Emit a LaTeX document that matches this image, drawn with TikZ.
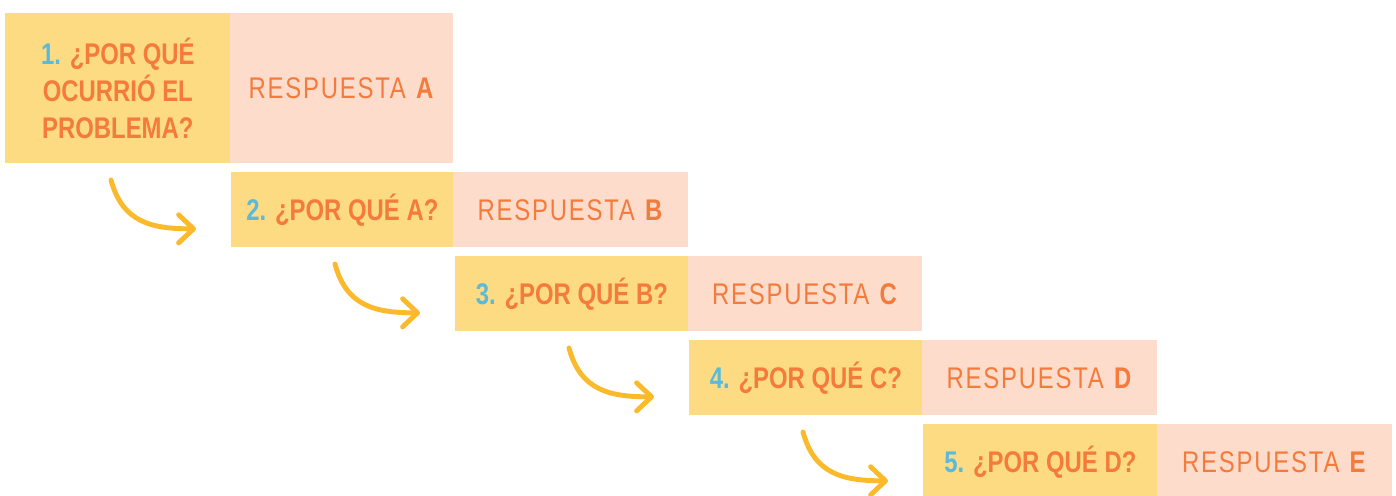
\documentclass[tikz,border=0pt]{standalone}
\usepackage{fontspec}
\setmainfont{Liberation Sans}[FakeStretch=0.8]
\newfontfamily\respfont{Liberation Sans}[FakeStretch=0.8,LetterSpace=6]
\usetikzlibrary{arrows.meta,calc}
\definecolor{amarillo}{HTML}{FCDB83}
\definecolor{rosa}{HTML}{FDDCCB}
\definecolor{naranja}{HTML}{F47B3B}
\definecolor{azul}{HTML}{5BB9DA}
\definecolor{flechacol}{HTML}{FBBA2B}
\tikzset{
  caja/.style={anchor=north west, inner sep=0pt, text=naranja,
    font=\fontsize{17}{21}\selectfont, align=center},
  pregunta/.style={caja, fill=amarillo, font=\fontsize{17}{21}\selectfont\bfseries},
  respuesta/.style={caja, fill=rosa, font=\fontsize{17}{21}\selectfont\respfont},
  flecha/.style={draw=flechacol, line width=2.8pt, line cap=round,
    -{Straight Barb[length=8.5pt,width=16pt,round]}}
}
\newcommand{\num}[1]{\textcolor{azul}{#1}}
\begin{document}
\begin{tikzpicture}[x=0.02cm, y=-0.02cm]
\useasboundingbox (0,0) rectangle (1396,496);

% fila 1
\node[pregunta, minimum width=4.5cm, minimum height=3cm] (q1) at (5,13)
  {\num{1.} ¿POR QUÉ\\OCURRIÓ EL\\PROBLEMA?};
\node[respuesta, minimum width=4.46cm, minimum height=3cm] (r1) at (230,13)
  {RESPUESTA \textbf{A}};

% fila 2
\node[pregunta, minimum width=4.44cm, minimum height=1.5cm] (q2) at (231,172)
  {\num{2.} ¿POR QUÉ A?};
\node[respuesta, minimum width=4.7cm, minimum height=1.5cm] (r2) at (453,172)
  {RESPUESTA \textbf{B}};

% fila 3
\node[pregunta, minimum width=4.66cm, minimum height=1.5cm] (q3) at (455,256)
  {\num{3.} ¿POR QUÉ B?};
\node[respuesta, minimum width=4.68cm, minimum height=1.5cm] (r3) at (688,256)
  {RESPUESTA \textbf{C}};

% fila 4
\node[pregunta, minimum width=4.66cm, minimum height=1.5cm] (q4) at (689,340)
  {\num{4.} ¿POR QUÉ C?};
\node[respuesta, minimum width=4.7cm, minimum height=1.5cm] (r4) at (922,340)
  {RESPUESTA \textbf{D}};

% fila 5
\node[pregunta, minimum width=4.68cm, minimum height=1.5cm] (q5) at (923,424)
  {\num{5.} ¿POR QUÉ D?};
\node[respuesta, minimum width=4.7cm, minimum height=1.5cm] (r5) at (1157,424)
  {RESPUESTA \textbf{E}};

% flechas
\foreach \n in {2,...,5}{
  \coordinate (s\n) at ($(q\n.north west)+(-120,8)$);
  \coordinate (t\n) at ($(q\n.west)+(-35,19)$);
  \draw[flecha] (s\n) to[out=-75,in=180,looseness=1.15] (t\n);
}

\end{tikzpicture}
\end{document}
